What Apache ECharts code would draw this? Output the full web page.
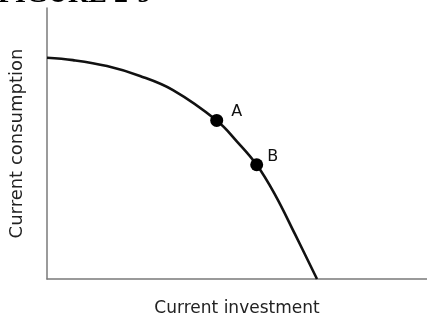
<!DOCTYPE html>
<html>
<head>
<meta charset="utf-8">
<style>
  html, body { margin: 0; padding: 0; background: #fff; }
  #chart { width: 427px; height: 322px; }
</style>
<script src="https://cdn.jsdelivr.net/npm/echarts@6/dist/echarts.min.js"></script>
</head>
<body>
<div id="chart"></div>
<script>
// Production possibilities frontier: current investment vs. current consumption
const investment  = [0, 26, 60, 93, 126, 169.7, 190, 209.7, 228, 248, 270];
const consumption = [223.7, 221.3, 215.3, 205.3, 191, 160.3, 139, 115.5, 85.3, 45.3, 0];

const pointNames = ['A', 'B'];
const pointInvestment  = [169.7, 209.7];
const pointConsumption = [160.3, 115.5];

const titleText = 'FIGURE 2-9';
const xName = 'Current investment';
const yName = 'Current consumption';

const frontier = investment.map((x, i) => [x, consumption[i]]);
const labelOffsets = [[3, -9], [-1, -8]];
const points = pointNames.map((n, i) => ({
  name: n,
  value: [pointInvestment[i], pointConsumption[i]],
  label: { offset: labelOffsets[i] }
}));

const chart = echarts.init(document.getElementById('chart'), null, { renderer: 'canvas' });
chart.setOption({
  animation: false,
  backgroundColor: '#fff',
  grid: { left: 47, right: 0, top: 8, bottom: 40 },
  graphic: [{
    type: 'text',
    left: -2,
    top: -19,
    style: {
      text: titleText,
      font: 'bold 28px "Liberation Serif", serif',
      fill: '#000'
    }
  }],
  xAxis: {
    type: 'value', min: 0, max: 380,
    name: xName, nameLocation: 'middle', nameGap: 21,
    nameTextStyle: { fontFamily: 'DejaVu Sans', fontSize: 17, color: '#222' },
    axisLine: { show: true, lineStyle: { color: '#7a7a7a', width: 1.5 } },
    axisTick: { show: false }, axisLabel: { show: false }, splitLine: { show: false }
  },
  yAxis: {
    type: 'value', min: 0, max: 274,
    name: yName, nameLocation: 'middle', nameGap: 21,
    nameTextStyle: { fontFamily: 'DejaVu Sans', fontSize: 18, color: '#222' },
    axisLine: { show: true, lineStyle: { color: '#7a7a7a', width: 1.5 } },
    axisTick: { show: false }, axisLabel: { show: false }, splitLine: { show: false }
  },
  series: [{
    type: 'line',
    data: frontier,
    smooth: 0.4,
    showSymbol: false,
    lineStyle: { color: '#111', width: 2.6 },
    z: 2
  }, {
    type: 'scatter',
    data: points,
    symbolSize: 13,
    itemStyle: { color: '#000', opacity: 1 },
    label: {
      show: true, position: 'right', formatter: '{b}',
      fontFamily: 'DejaVu Sans', fontSize: 16, color: '#111'
    },
    z: 3
  }]
});
</script>
</body>
</html>
